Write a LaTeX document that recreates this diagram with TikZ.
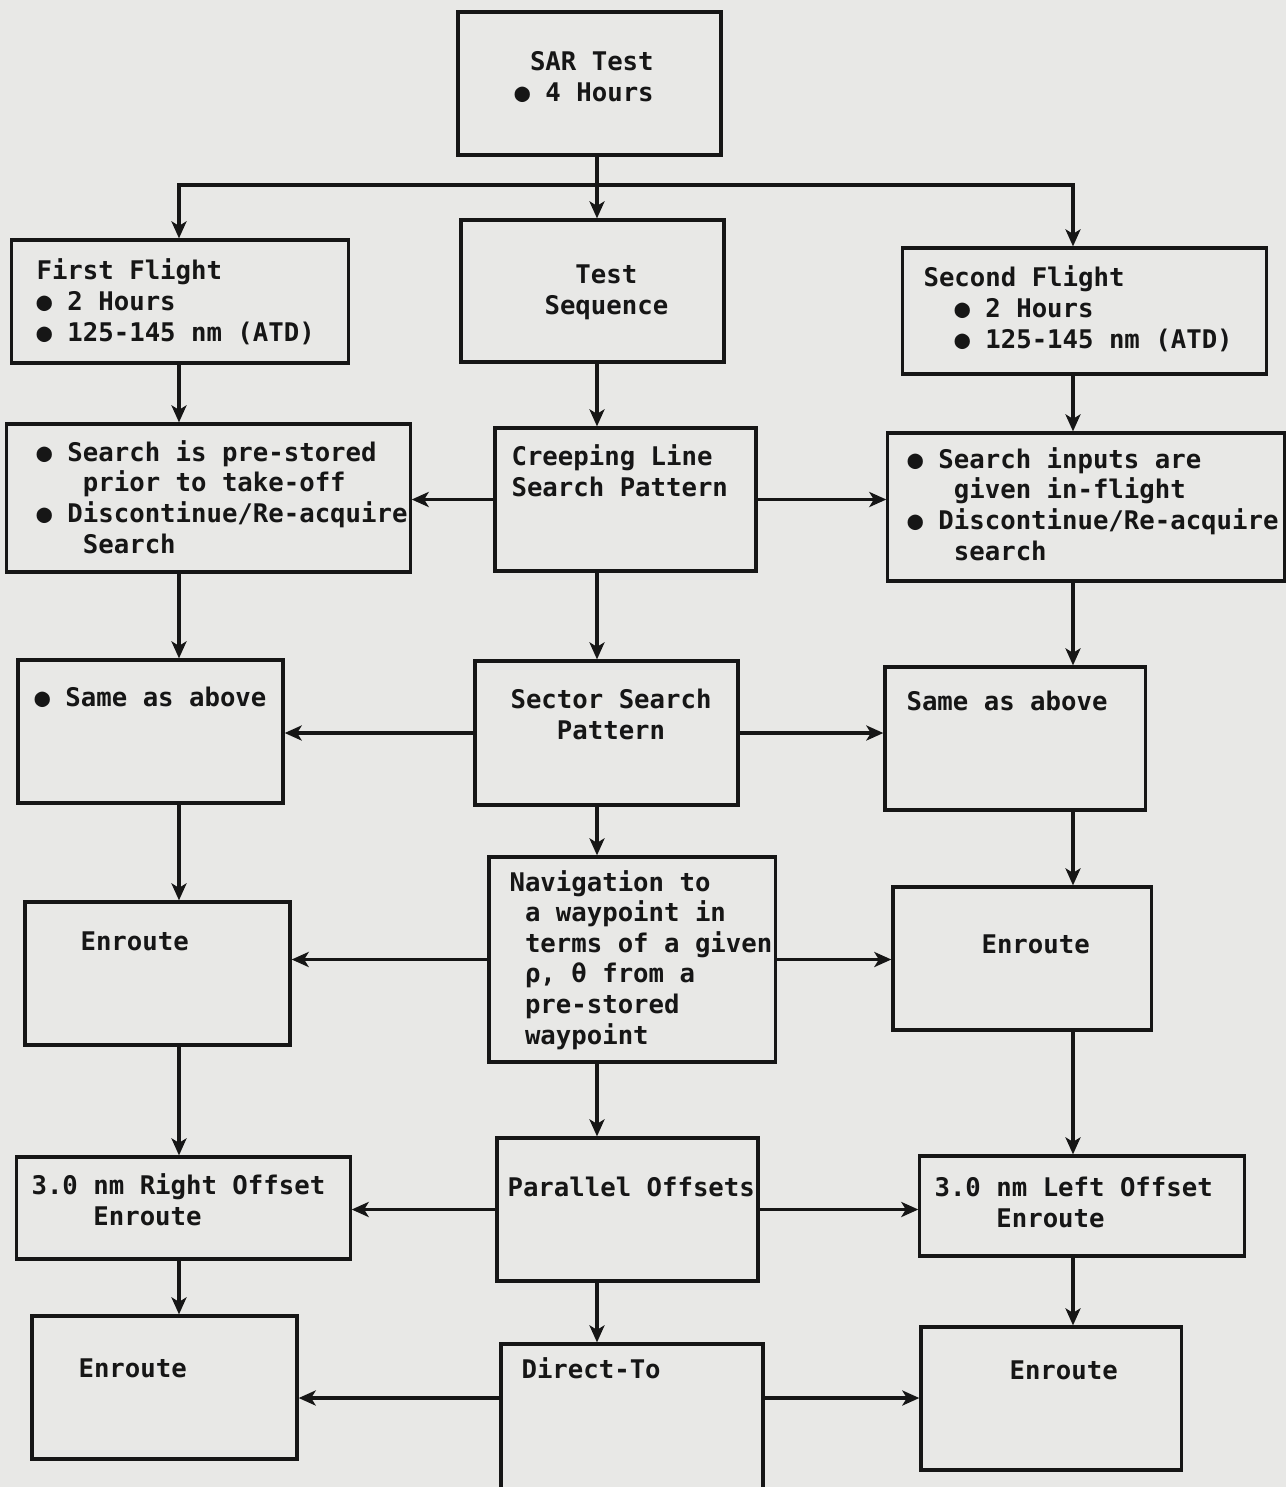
\documentclass[tikz,border=0pt]{standalone}
\usepackage{fontspec}
\newfontfamily\flowfont{DejaVu Sans Mono}
\usepackage{tikz}
\usetikzlibrary{arrows.meta, positioning}
\definecolor{scan}{RGB}{232,232,230}
\definecolor{ink}{RGB}{22,22,22}

\begin{document}
\begin{tikzpicture}[x=0.01cm, y=-0.01cm, line width=0.9pt, color=ink,
    box/.style={draw, inner sep=0pt},
    txt/.style={anchor=base west, inner sep=0pt, align=left,
      font=\flowfont\bfseries\fontsize{7.3}{8.68}\selectfont},
    >={Stealth[length=0.17cm, width=0.15cm, inset=0.045cm]}]
       \useasboundingbox (0,0) rectangle (1286,1487);
       \fill[scan] (0,0) rectangle (1286,1487);
       \clip (0,0) rectangle (1286,1487);

       \node[box, minimum width=2.63cm, minimum height=1.43cm] (sar)     at (589.5,83.5)   {};
       \node[box, minimum width=3.36cm, minimum height=1.23cm] (first)   at (180,301.5)    {};
       \node[box, minimum width=2.63cm, minimum height=1.42cm] (seq)     at (592.5,291)    {};
       \node[box, minimum width=3.63cm, minimum height=1.26cm] (second)  at (1084.5,311)   {};
       \node[box, minimum width=4.03cm, minimum height=1.48cm] (lsearch) at (208.5,498)    {};
       \node[box, minimum width=2.61cm, minimum height=1.43cm] (creep)   at (625.5,499.5)  {};
       \node[box, minimum width=3.96cm, minimum height=1.48cm] (rsearch) at (1086,507)     {};
       \node[box, minimum width=2.65cm, minimum height=1.43cm] (lsame)   at (150.5,731.5)  {};
       \node[box, minimum width=2.63cm, minimum height=1.44cm] (sector)  at (606.5,733)    {};
       \node[box, minimum width=2.60cm, minimum height=1.43cm] (rsame)   at (1015,738.5)   {};
       \node[box, minimum width=2.65cm, minimum height=1.43cm] (lenr1)   at (157.5,973.5)  {};
       \node[box, minimum width=2.86cm, minimum height=2.05cm] (nav)     at (632,959.5)    {};
       \node[box, minimum width=2.58cm, minimum height=1.43cm] (renr1)   at (1022,958.5)   {};
       \node[box, minimum width=3.33cm, minimum height=1.02cm] (roff)    at (183.5,1208)   {};
       \node[box, minimum width=2.61cm, minimum height=1.43cm] (par)     at (627.5,1209.5) {};
       \node[box, minimum width=3.24cm, minimum height=1.00cm] (loff)    at (1082,1206)    {};
       \node[box, minimum width=2.65cm, minimum height=1.43cm] (lenr2)   at (164.5,1387.5) {};
       \node[box, minimum width=2.62cm, minimum height=1.46cm] (direct)  at (632,1417)     {};
       \node[box, minimum width=2.60cm, minimum height=1.43cm] (renr2)   at (1051,1398.5)  {};

       \node[txt] (sarT)     at (513,101)  {\phantom{x}SAR Test\\● 4 Hours};
       \node[txt] (firstT)   at (35,341)   {First Flight\\● 2 Hours\\● 125-145 nm (ATD)};
       \node[txt] (seqT)     at (543,314)  {\phantom{xx}Test\\Sequence};
       \node[txt] (secondT)  at (922,348)  {Second Flight\\\phantom{xx}● 2 Hours\\\phantom{xx}● 125-145 nm (ATD)};
       \node[txt] (lsearchT) at (35,553)   {● Search is pre-stored\\\phantom{xxx}prior to take-off\\● Discontinue/Re-acquire\\\phantom{xxx}Search};
       \node[txt] (creepT)   at (510,496)  {Creeping Line\\Search Pattern};
       \node[txt] (rsearchT) at (906,560)  {● Search inputs are\\\phantom{xxx}given in-flight\\● Discontinue/Re-acquire\\\phantom{xxx}search};
       \node[txt] (lsameT)   at (33,706)   {● Same as above};
       \node[txt] (sectorT)  at (509,739)  {Sector Search\\\phantom{xxx}Pattern};
       \node[txt] (rsameT)   at (905,710)  {Same as above};
       \node[txt] (lenr1T)   at (79,950)   {Enroute};
       \node[txt] (navT)     at (508,1044) {Navigation to\\\phantom{x}a waypoint in\\\phantom{x}terms of a given\\\phantom{x}ρ, θ from a\\\phantom{x}pre-stored\\\phantom{x}waypoint};
       \node[txt] (renr1T)   at (980,953)  {Enroute};
       \node[txt] (roffT)    at (30,1225)  {3.0 nm Right Offset\\\phantom{xxxx}Enroute};
       \node[txt] (parT)     at (506,1196) {Parallel Offsets};
       \node[txt] (loffT)    at (933,1227) {3.0 nm Left Offset\\\phantom{xxxx}Enroute};
       \node[txt] (lenr2T)   at (77,1377)  {Enroute};
       \node[txt] (directT)  at (520,1378) {Direct-To};
       \node[txt] (renr2T)   at (1008,1379) {Enroute};

       \coordinate (colL) at (179,185);
       \coordinate (colC) at (597,185);
       \coordinate (colR) at (1073,185);
       \coordinate (dirY) at (632,1398);

       \draw[->] (sar.south -| colC) -- (seq.north -| colC);
       \draw[<->] (first.north -| colL) -- (colL) -- (colR) -- (second.north -| colR);

       \foreach \a/\b in {first/lsearch, lsearch/lsame, lsame/lenr1, lenr1/roff, roff/lenr2}
         \draw[->] (\a.south -| colL) -- (\b.north -| colL);
       \foreach \a/\b in {seq/creep, creep/sector, sector/nav, nav/par, par/direct}
         \draw[->] (\a.south -| colC) -- (\b.north -| colC);
       \foreach \a/\b in {second/rsearch, rsearch/rsame, rsame/renr1, renr1/loff, loff/renr2}
         \draw[->] (\a.south -| colR) -- (\b.north -| colR);

       \foreach \c/\l/\r in {creep/lsearch/rsearch, sector/lsame/rsame, nav/lenr1/renr1, par/roff/loff} {
         \draw[->] (\c.west) -- (\c.west -| \l.east);
         \draw[->] (\c.east) -- (\c.east -| \r.west);
       }
       \draw[->] (direct.west |- dirY) -- (dirY -| lenr2.east);
       \draw[->] (direct.east |- dirY) -- (dirY -| renr2.west);
\end{tikzpicture}
\end{document}
